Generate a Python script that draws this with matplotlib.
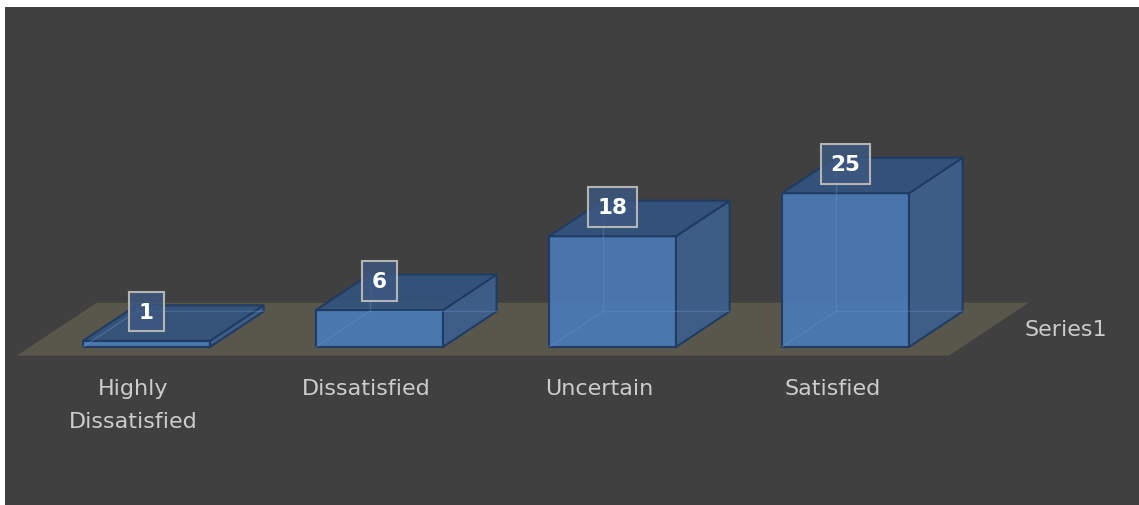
import matplotlib.pyplot as plt
from matplotlib.patches import Polygon

categories = ['Highly\nDissatisfied', 'Dissatisfied', 'Uncertain', 'Satisfied']
values = [1, 6, 18, 25]
series_name = 'Series1'

# oblique projection: one unit of depth shifts right (in categories) and up (in values)
DEPTH_X = 80 / 233
DEPTH_Y = 53 / 6.15
BAR_HALF = 0.2725
D_FRONT, D_BACK = 0.165, 0.835

FRONT = '#4a79b3'
SIDE = '#3d5f8c'
TOP = '#34547d'
EDGE = '#1f3b63'
FLOOR = '#59564c'
TEXT = '#cccccc'


def proj(x, y, d):
    return (x + d * DEPTH_X, y + d * DEPTH_Y)


def face(ax, pts, color, z):
    ax.add_patch(Polygon(pts, closed=True, facecolor=color, edgecolor=EDGE,
                         linewidth=1.5, alpha=0.95, zorder=z))


def draw_bar(ax, i, v):
    x0, x1 = i - BAR_HALF, i + BAR_HALF
    z = 3 + i
    face(ax, [proj(x0, 0, D_FRONT), proj(x1, 0, D_FRONT),
              proj(x1, v, D_FRONT), proj(x0, v, D_FRONT)], FRONT, z)
    face(ax, [proj(x1, 0, D_FRONT), proj(x1, 0, D_BACK),
              proj(x1, v, D_BACK), proj(x1, v, D_FRONT)], SIDE, z)
    face(ax, [proj(x0, v, D_FRONT), proj(x1, v, D_FRONT),
              proj(x1, v, D_BACK), proj(x0, v, D_BACK)], TOP, z)
    # back edges faintly seen through the front face
    hidden = [proj(x0, 0, D_FRONT), proj(x0, 0, D_BACK), proj(x1, 0, D_BACK)]
    ax.plot([p[0] for p in hidden], [p[1] for p in hidden],
            color='#6a93c8', lw=1, alpha=0.35, zorder=z + 0.5)
    back = [proj(x0, 0, D_BACK), proj(x0, v, D_BACK)]
    ax.plot([p[0] for p in back], [p[1] for p in back],
            color='#6a93c8', lw=1, alpha=0.35, zorder=z + 0.5)


fig = plt.figure(figsize=(11.39, 5.06), dpi=100, facecolor='white')
ax = fig.add_axes([5 / 1139, 0, 1134 / 1139, 498 / 506])
ax.set_facecolor('#404040')
ax.set_xlim(-0.5506, 4.3163)
ax.set_ylim(-24.28, 56.70)
ax.set_xticks([])
ax.set_yticks([])
for s in ax.spines.values():
    s.set_visible(False)

n = len(categories)
floor = [proj(-0.5, 0, 0), proj(n - 0.5, 0, 0),
         proj(n - 0.5, 0, 1), proj(-0.5, 0, 1)]
ax.add_patch(Polygon(floor, closed=True, facecolor=FLOOR, edgecolor='none', zorder=1))

for i, v in enumerate(values):
    draw_bar(ax, i, v)
    ax.annotate(str(v), xy=proj(i, v, D_FRONT), xytext=(0, 21),
                textcoords='offset points', ha='center', va='center',
                fontsize=15.5, fontweight='bold', color='white', zorder=20,
                bbox=dict(boxstyle='square,pad=0.45', facecolor=(0.24, 0.35, 0.51, 0.8),
                          edgecolor='#b4b4b4', linewidth=1.5))
    ax.text(i, -3.6, categories[i], ha='center', va='top', fontsize=16,
            color=TEXT, linespacing=1.85, zorder=20)

sx, sy = proj(3.655, 0, 0.5)
ax.text(sx, sy, series_name, ha='left', va='center', fontsize=16, color=TEXT)

fig.savefig('out.png', dpi=100, facecolor='white')
